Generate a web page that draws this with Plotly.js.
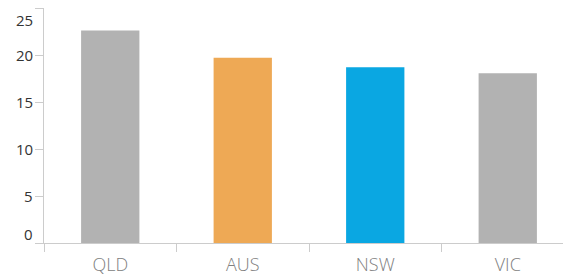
<!DOCTYPE html>
<html><head><meta charset="utf-8">
<script src="https://cdn.plot.ly/plotly-3.0.1.min.js"></script>
<style>html,body{margin:0;padding:0;overflow:hidden;background:#fff}#chart{width:580px;height:276px}</style>
</head><body><div id="chart"></div>
<script>
const categories = ["QLD", "AUS", "NSW", "VIC"];
const values = [22.6, 19.7, 18.7, 18.05];
const barColors = ["#b2b2b2", "#eea955", "#0aa7e2", "#b2b2b2"];
const yTicks = [0, 5, 10, 15, 20, 25];
const yTickShift = {0: 9, 25: -12};

const annotations = yTicks.map(v => ({
  xref: "paper", yref: "y", x: 0, y: v, text: String(v),
  showarrow: false, xanchor: "right", yanchor: "middle",
  xshift: -9, yshift: yTickShift[v] || 0,
  font: {family: "Open Sans", size: 15, color: "#333"}
}));

Plotly.newPlot("chart", [{
  type: "bar", x: categories, y: values,
  marker: {color: barColors}, hoverinfo: "none"
}], {
  width: 580, height: 276,
  margin: {l: 44, r: 6, t: 8, b: 33},
  bargap: 0.56,
  showlegend: false,
  paper_bgcolor: "#fff", plot_bgcolor: "#fff",
  xaxis: {
    type: "category", range: [-0.5, 3.5], tickson: "boundaries",
    ticks: "outside", ticklen: 8, tickcolor: "#cccccc", tickwidth: 1,
    showline: true, linecolor: "#cccccc", linewidth: 1,
    showgrid: false, zeroline: false, ticklabelstandoff: 5,
    tickfont: {family: "Open Sans", size: 18, color: "#808080", weight: 300}
  },
  yaxis: {
    range: [0, 25], tickvals: yTicks, showticklabels: false,
    ticks: "outside", ticklen: 8, tickcolor: "#cccccc", tickwidth: 1,
    showline: true, linecolor: "#cccccc", linewidth: 1,
    showgrid: false, zeroline: false
  },
  annotations: annotations
}, {staticPlot: true});
</script></body></html>
